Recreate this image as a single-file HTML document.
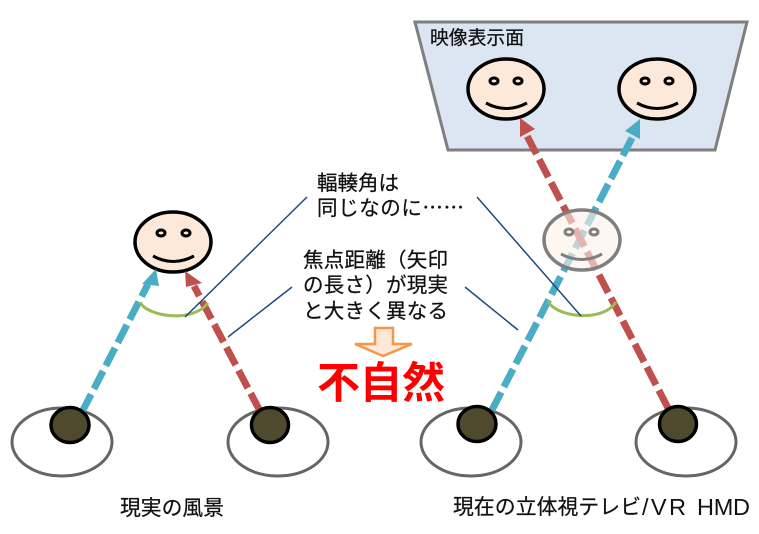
<!DOCTYPE html>
<html><head><meta charset="utf-8">
<style>
html,body{margin:0;padding:0;background:#fff;width:759px;height:534px;overflow:hidden}
svg{display:block}
text{font-family:"Noto Sans CJK JP","Liberation Sans",sans-serif;fill:#111;stroke:#111;stroke-width:.25}
</style></head>
<body>
<svg width="759" height="534" viewBox="0 0 759 534" xmlns="http://www.w3.org/2000/svg">
<polygon points="415,22 747,22 715,150 448,150" fill="#dce6f2" stroke="#7f7f7f" stroke-width="3"/>
<text x="430" y="44" font-size="18.8" textLength="94">映像表示面</text>

<!-- eyes whites -->
<g fill="#fff" stroke="#666" stroke-width="3">
<ellipse cx="62" cy="442" rx="50" ry="34"/>
<ellipse cx="278" cy="442" rx="50" ry="34"/>
<ellipse cx="471" cy="442" rx="50" ry="34"/>
<ellipse cx="686" cy="442" rx="50" ry="34"/>
</g>

<!-- top faces -->
<g fill="#fde9d9" stroke="#000" stroke-width="3.5">
<ellipse cx="506" cy="89" rx="38" ry="30"/>
<ellipse cx="657" cy="89" rx="38" ry="30"/>
<ellipse cx="173" cy="242" rx="38" ry="30"/>
</g>
<g fill="none" stroke="#000" stroke-width="3">
<ellipse cx="494" cy="81" rx="4" ry="3"/><ellipse cx="518" cy="81" rx="4" ry="3"/>
<ellipse cx="645" cy="81" rx="4" ry="3"/><ellipse cx="669" cy="81" rx="4" ry="3"/>
<ellipse cx="161" cy="233" rx="4" ry="3"/><ellipse cx="186" cy="233" rx="4" ry="3"/>
<path d="M486,103 Q506,114 527,103"/>
<path d="M637,103 Q657,114 678,103"/>
<path d="M153,256 Q173,267 194,256"/>
</g>

<!-- dashed arrows -->
<g fill="none" stroke-width="7">
<line x1="82" y1="412" x2="148" y2="284" stroke="#4bacc6" stroke-dasharray="20 6"/>
<line x1="260" y1="411" x2="194" y2="286" stroke="#c0504d" stroke-dasharray="20 6"/>
<line x1="492" y1="410" x2="633" y2="136" stroke="#4bacc6" stroke-dasharray="20 6"/>
<line x1="668" y1="408" x2="526" y2="134" stroke="#c0504d" stroke-dasharray="20 6"/>
</g>
<polygon points="156,269 159,286 142,284" fill="#4bacc6"/>
<polygon points="185,271 202,283 186,287" fill="#c0504d"/>
<polygon points="640,119 640,139 625,131" fill="#4bacc6"/>
<polygon points="520,118 535,129 520,137" fill="#c0504d"/>

<!-- ghost face -->
<ellipse cx="582" cy="240" rx="38" ry="30" fill="#fdf0e6" fill-opacity=".62"/>
<g fill="none" stroke="#7f7f7f">
<ellipse cx="582" cy="240" rx="38" ry="30" stroke-width="3.5"/>
<ellipse cx="569" cy="232" rx="4" ry="3" stroke-width="3"/><ellipse cx="594" cy="232" rx="4" ry="3" stroke-width="3"/>
<path d="M561,254 Q582,265 602,254" stroke-width="3"/>
</g>

<!-- pupils -->
<g fill="#4f4a2e" stroke="#000" stroke-width="3.5">
<ellipse cx="70" cy="425" rx="19" ry="17.5"/>
<ellipse cx="270" cy="425" rx="18.5" ry="17.5"/>
<ellipse cx="477" cy="424" rx="19" ry="17.5"/>
<ellipse cx="678" cy="424" rx="18.5" ry="17.5"/>
</g>

<!-- angle arcs -->
<g fill="none" stroke="#9bbb59" stroke-width="3">
<path d="M140,302 C146,316 192,324 208,303"/>
<path d="M548,301 C554,316 602,324 616,302"/>
</g>

<!-- leader lines -->
<g stroke="#1f497d" stroke-width="1.5" fill="none">
<line x1="307" y1="197" x2="185" y2="317"/>
<line x1="292" y1="287" x2="228" y2="337"/>
<line x1="477" y1="197" x2="581" y2="316"/>
<line x1="465" y1="287" x2="518" y2="330"/>
</g>

<!-- text -->
<text x="317" y="190" font-size="20.5" textLength="82">輻輳角は</text>
<text x="317" y="215" font-size="20.5" textLength="147">同じなのに……</text>
<text x="303" y="267" font-size="20.5" textLength="145">焦点距離（矢印</text>
<text x="303" y="292" font-size="20.5" textLength="145">の長さ）が現実</text>
<text x="303" y="318" font-size="20.5" textLength="145">と大きく異なる</text>

<polygon points="375,328 393,328 393,344 412,344 383,356 355,344 375,344" fill="#fde9d9" stroke="#f79646" stroke-width="2.5"/>

<text x="317" y="398" font-size="43" font-weight="bold" textLength="128" style="fill:#ff0000;stroke:none">不自然</text>

<text x="120" y="515" font-size="20.8" textLength="104">現実の風景</text>
<text x="453" y="514" font-size="20.8" textLength="188">現在の立体視テレビ</text>
<text x="642" y="515" font-size="23.5" textLength="44" style="font-family:'Liberation Sans',sans-serif;stroke:none">/VR</text>
<text x="697" y="515" font-size="23.5" textLength="53" style="font-family:'Liberation Sans',sans-serif;stroke:none">HMD</text>
</svg>
</body></html>
